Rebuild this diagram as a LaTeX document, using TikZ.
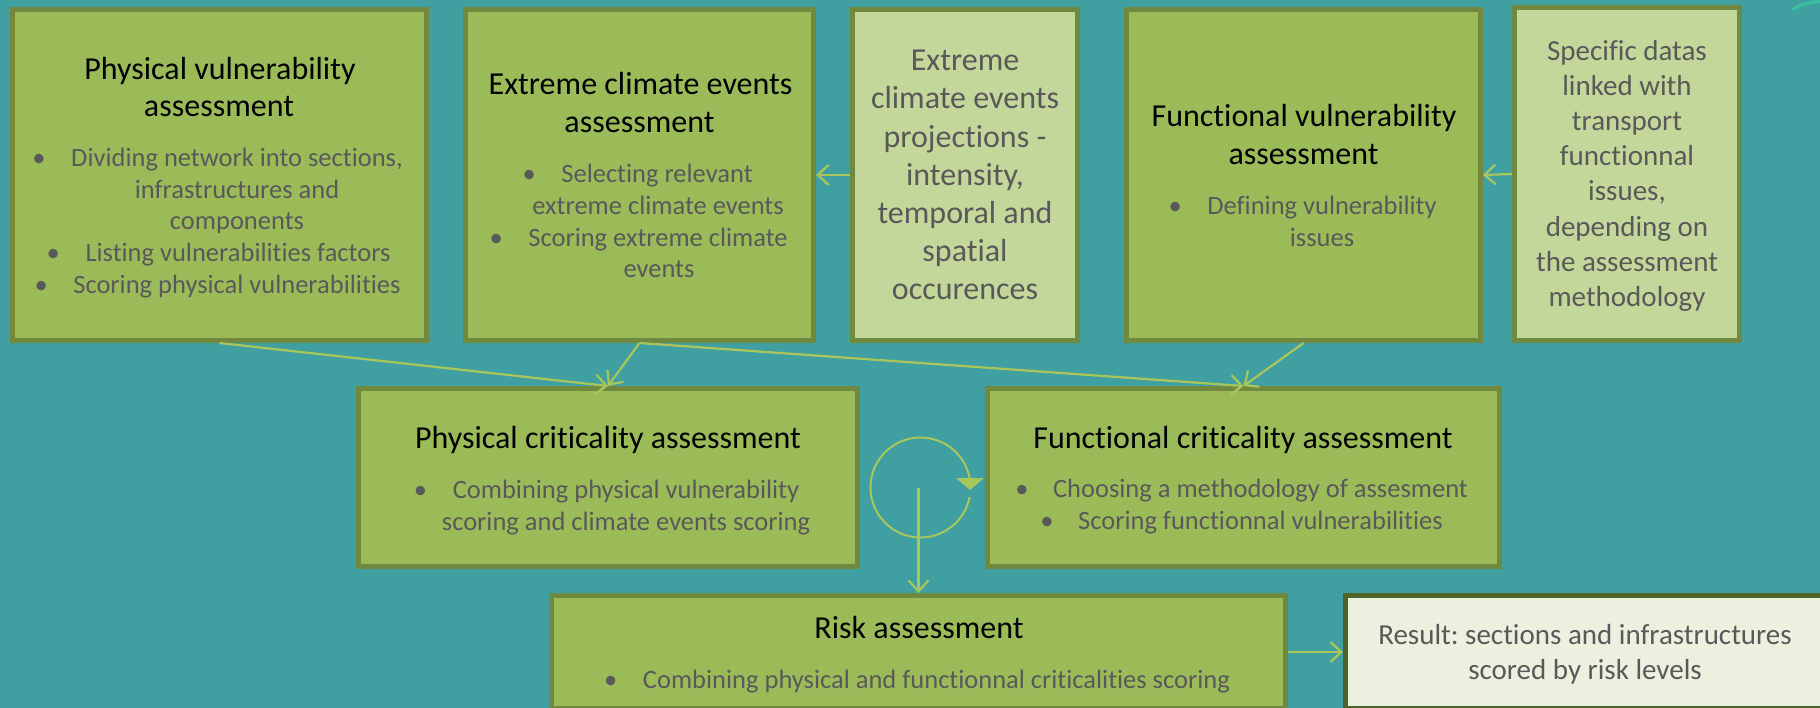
\documentclass[tikz,border=0pt]{standalone}
\usepackage{fontspec}
\setmainfont{Carlito}[Ligatures={NoCommon,NoRare,NoDiscretionary,NoContextual}]
\frenchspacing
\usetikzlibrary{arrows.meta,calc}
\definecolor{bg}{RGB}{64,159,160}
\definecolor{gfill}{RGB}{155,187,89}
\definecolor{gline}{RGB}{113,137,63}
\definecolor{lfill}{RGB}{196,215,155}
\definecolor{rfill}{RGB}{235,241,222}
\definecolor{rline}{RGB}{79,98,40}
\definecolor{arr}{RGB}{168,198,92}
\definecolor{txtgray}{RGB}{89,89,89}
\definecolor{deco}{RGB}{60,190,160}
\begin{document}
\begin{tikzpicture}[x=1pt,y=-1pt,
  gbox/.style={draw=gline, fill=gfill, line width=5pt, inner sep=0pt, rectangle},
  lbox/.style={gbox, fill=lfill},
  rbox/.style={draw=rline, fill=rfill, line width=5pt, inner sep=0pt, rectangle},
  ttl/.style={font=\fontsize{32}{38}\selectfont\frenchspacing, text=black, inner sep=0pt, anchor=base},
  bod/.style={font=\fontsize{26.5}{32}\selectfont\frenchspacing, text=txtgray, inner sep=0pt, anchor=base},
  big/.style={font=\fontsize{32}{38}\selectfont\frenchspacing, text=txtgray, inner sep=0pt, anchor=base},
  mid/.style={font=\fontsize{29}{35}\selectfont\frenchspacing, text=txtgray, inner sep=0pt, anchor=base},
  bul/.style={bod},
  conn/.style={draw=arr, line width=2.2pt, -{Straight Barb[length=11pt,width=20pt]}},
  cyc/.style={draw=arr, line width=2pt}]
\useasboundingbox (0,0) rectangle (1820,708);
\fill[bg] (0,0) rectangle (1820,708);
\fill[deco] (1791,9) .. controls (1798,3) and (1808,1) .. (1820,0) -- (1820,3) .. controls (1810,4) and (1800,6) .. (1793,11) -- cycle;

% boxes
\node[gbox, minimum width=414pt, minimum height=331pt] (pv) at (219.5,175) {};
\node[gbox, minimum width=348pt, minimum height=331pt] (ec) at (639.5,175) {};
\node[lbox, minimum width=225pt, minimum height=331pt] (proj) at (965,175) {};
\node[gbox, minimum width=354pt, minimum height=331pt] (fv) at (1303.5,175) {};
\node[lbox, minimum width=225pt, minimum height=333pt] (spec) at (1627,174) {};
\node[gbox, minimum width=499pt, minimum height=178pt] (pc) at (608,477.5) {};
\node[gbox, minimum width=512pt, minimum height=178pt] (fc) at (1243.5,477.5) {};
\node[gbox, minimum width=734pt, minimum height=113pt] (risk) at (918.5,652) {};
\node[rbox, minimum width=482pt, minimum height=113pt] (res) at (1586.5,652) {};

% box 1
\node[ttl] (pvt1) at (220,80) {Physical vulnerability};
\node[ttl] (pvt2) at (219,117) {assessment};
\node[bod] (pv1) at (237,167) {Dividing network into sections,};
\node[bul] (pv1b) at ([xshift=-32pt]pv1.base west) {\textbullet};
\node[bod] (pv2) at (237,199) {infrastructures and};
\node[bod] (pv3) at (237,230) {components};
\node[bod] (pv4) at (238,262) {Listing vulnerabilities factors};
\node[bul] (pv4b) at ([xshift=-32pt]pv4.base west) {\textbullet};
\node[bod] (pv5) at (237,294) {Scoring physical vulnerabilities};
\node[bul] (pv5b) at ([xshift=-32pt]pv5.base west) {\textbullet};

% box 2
\node[ttl] (ect1) at (640.5,95) {Extreme climate events};
\node[ttl] (ect2) at (639.5,133) {assessment};
\node[bod] (ec1) at (657,183) {Selecting relevant};
\node[bul] (ec1b) at ([xshift=-32pt]ec1.base west) {\textbullet};
\node[bod] (ec2) at (658,215) {extreme climate events};
\node[bod] (ec3) at (658,247) {Scoring extreme climate};
\node[bul] (ec3b) at ([xshift=-32pt]ec3.base west) {\textbullet};
\node[bod] (ec4) at (659,278) {events};

% box 3
\node[big] (pr1) at (965,71) {Extreme};
\node[big] (pr2) at (965,109) {climate events};
\node[big] (pr3) at (965,148) {projections -};
\node[big] (pr4) at (965,186) {intensity,};
\node[big] (pr5) at (965,224) {temporal and};
\node[big] (pr6) at (965,262) {spatial};
\node[big] (pr7) at (965,300) {occurences};

% box 4
\node[ttl] (fvt1) at (1304,127) {Functional vulnerability};
\node[ttl] (fvt2) at (1303.5,165) {assessment};
\node[bod] (fv1) at (1322,215) {Defining vulnerability};
\node[bul] (fv1b) at ([xshift=-32pt]fv1.base west) {\textbullet};
\node[bod] (fv2) at (1322,247) {issues};

% box 5
\node[mid] (sp1) at (1627,61) {Specific datas};
\node[mid] (sp2) at (1627,96) {linked with};
\node[mid] (sp3) at (1627,131) {transport};
\node[mid] (sp4) at (1627,166) {functionnal};
\node[mid] (sp5) at (1627,201) {issues,};
\node[mid] (sp6) at (1627,237) {depending on};
\node[mid] (sp7) at (1627,272) {the assessment};
\node[mid] (sp8) at (1627,307) {methodology};

% physical criticality
\node[ttl] (pct) at (608,448) {Physical criticality assessment};
\node[bod] (pc1) at (626,498) {Combining physical vulnerability};
\node[bul] (pc1b) at ([xshift=-32pt]pc1.base west) {\textbullet};
\node[bod] (pc2) at (626,530) {scoring and climate events scoring};

% functional criticality
\node[ttl] (fct) at (1243,448) {Functional criticality assessment};
\node[bod] (fc1) at (1260.5,497) {Choosing a methodology of assesment};
\node[bul] (fc1b) at ([xshift=-31pt]fc1.base west) {\textbullet};
\node[bod] (fc2) at (1260.5,529) {Scoring functionnal vulnerabilities};
\node[bul] (fc2b) at ([xshift=-31pt]fc2.base west) {\textbullet};

% risk
\node[ttl] (rkt) at (919,638) {Risk assessment};
\node[bod] (rk1) at (936.5,688) {Combining physical and functionnal criticalities scoring};
\node[bul] (rk1b) at ([xshift=-32pt]rk1.base west) {\textbullet};

% result
\node[mid] (rs1) at (1585,644) {Result: sections and infrastructures};
\node[mid] (rs2) at (1585,679) {scored by risk levels};

% connectors
\draw[conn] (proj.west) -- (ec.east);
\draw[conn] (spec.west) -- (fv.east);
\draw[conn] (pv.south) -- (pc.north);
\draw[conn] (ec.south) -- (pc.north);
\draw[conn] (ec.south) -- (fc.north);
\draw[conn] (fv.south) -- (fc.north);
\draw[conn] (risk.east) -- (res.west);

% cycle symbol
\coordinate (cc) at (920.5,487.5);
\draw[cyc] (cc) ++(11:50) arc[start angle=11, end angle=349, radius=50];
\fill[arr] (956,478) -- (984,478) -- (970,490) -- cycle;
\coordinate (vs) at (918.5,488);
\draw[conn] (vs) -- (risk.north);
\end{tikzpicture}
\end{document}
